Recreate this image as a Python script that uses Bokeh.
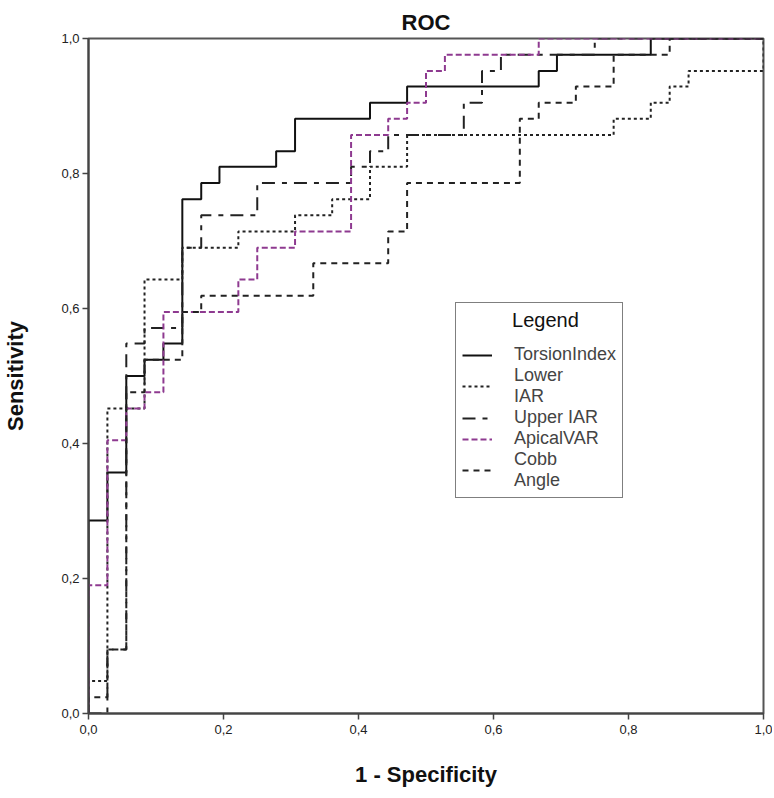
from bokeh.plotting import figure
from bokeh.models import Legend, LegendItem, FixedTicker, CustomJSTickFormatter, Range1d
from bokeh.embed import file_html
from bokeh.resources import INLINE

# ROC step-curve vertices (1 - specificity, sensitivity)
torsion_fpr = [0.0, 0.0, 0.028, 0.028, 0.056, 0.056, 0.083, 0.083, 0.111, 0.111, 0.139, 0.139,
               0.167, 0.167, 0.194, 0.194, 0.278, 0.278, 0.306, 0.306, 0.417, 0.417, 0.472, 0.472,
               0.667, 0.667, 0.694, 0.694, 0.833, 0.833, 1.0]
torsion_tpr = [0.0, 0.286, 0.286, 0.357, 0.357, 0.5, 0.5, 0.524, 0.524, 0.548, 0.548, 0.762,
               0.762, 0.786, 0.786, 0.81, 0.81, 0.833, 0.833, 0.881, 0.881, 0.905, 0.905, 0.929,
               0.929, 0.952, 0.952, 0.976, 0.976, 1.0, 1.0]

lower_fpr = [0.0, 0.0, 0.028, 0.028, 0.083, 0.083, 0.139, 0.139, 0.222, 0.222, 0.306, 0.306,
             0.361, 0.361, 0.417, 0.417, 0.472, 0.472, 0.778, 0.778, 0.833, 0.833, 0.861, 0.861,
             0.889, 0.889, 1.0, 1.0]
lower_tpr = [0.0, 0.048, 0.048, 0.452, 0.452, 0.643, 0.643, 0.69, 0.69, 0.714, 0.714, 0.738,
             0.738, 0.762, 0.762, 0.81, 0.81, 0.857, 0.857, 0.881, 0.881, 0.905, 0.905, 0.929,
             0.929, 0.952, 0.952, 1.0]

upper_fpr = [0.0, 0.028, 0.028, 0.056, 0.056, 0.083, 0.083, 0.139, 0.139, 0.167, 0.167, 0.25,
             0.25, 0.389, 0.389, 0.417, 0.417, 0.444, 0.444, 0.556, 0.556, 0.583, 0.583, 0.611,
             0.611, 0.75, 0.75, 1.0]
upper_tpr = [0.0, 0.0, 0.095, 0.095, 0.548, 0.548, 0.571, 0.571, 0.69, 0.69, 0.738, 0.738,
             0.786, 0.786, 0.81, 0.81, 0.833, 0.833, 0.857, 0.857, 0.905, 0.905, 0.952, 0.952,
             0.976, 0.976, 1.0, 1.0]

apical_fpr = [0.0, 0.0, 0.028, 0.028, 0.056, 0.056, 0.083, 0.083, 0.111, 0.111, 0.222, 0.222,
              0.25, 0.25, 0.306, 0.306, 0.389, 0.389, 0.444, 0.444, 0.472, 0.472, 0.5, 0.5,
              0.528, 0.528, 0.667, 0.667, 1.0]
apical_tpr = [0.0, 0.19, 0.19, 0.405, 0.405, 0.452, 0.452, 0.476, 0.476, 0.595, 0.595, 0.643,
              0.643, 0.69, 0.69, 0.714, 0.714, 0.857, 0.857, 0.881, 0.881, 0.905, 0.905, 0.952,
              0.952, 0.976, 0.976, 1.0, 1.0]

cobb_fpr = [0.0, 0.0, 0.028, 0.028, 0.056, 0.056, 0.083, 0.083, 0.139, 0.139, 0.167, 0.167,
            0.333, 0.333, 0.444, 0.444, 0.472, 0.472, 0.639, 0.639, 0.667, 0.667, 0.722, 0.722,
            0.778, 0.778, 0.861, 0.861, 1.0]
cobb_tpr = [0.0, 0.024, 0.024, 0.095, 0.095, 0.476, 0.476, 0.524, 0.524, 0.595, 0.595, 0.619,
            0.619, 0.667, 0.667, 0.714, 0.714, 0.786, 0.786, 0.881, 0.881, 0.905, 0.905, 0.929,
            0.929, 0.976, 0.976, 1.0, 1.0]

series_labels = ["TorsionIndex", "Lower\nIAR", "Upper IAR", "ApicalVAR", "Cobb\nAngle"]
legend_title = "Legend"
tick_values = [0.0, 0.2, 0.4, 0.6, 0.8, 1.0]

FONT = "Liberation Sans"

p = figure(width=772, height=796, output_backend="svg", toolbar_location=None,
           x_range=Range1d(0, 1), y_range=Range1d(0, 1),
           min_border_left=88, min_border_right=9, min_border_top=38, min_border_bottom=83,
           title="ROC")
p.title.align = "center"
p.title.vertical_align = "top"
p.title.text_baseline = "top"
p.title.text_font = FONT
p.title.text_font_size = "22px"
p.title.text_font_style = "bold"
p.title.text_color = "#111111"
p.title.standoff = 4

p.grid.visible = False
p.outline_line_color = "#555555"
p.outline_line_width = 2

fmt = CustomJSTickFormatter(code="return tick.toFixed(1).replace('.', ',');")
for ax in (p.xaxis[0], p.yaxis[0]):
    ax.ticker = FixedTicker(ticks=tick_values)
    ax.formatter = fmt
    ax.minor_tick_line_color = None
    ax.major_tick_in = 0
    ax.major_tick_out = 6
    ax.major_tick_line_color = "#444444"
    ax.major_tick_line_width = 1.5
    ax.axis_line_color = "#444444"
    ax.axis_line_width = 2
    ax.major_label_text_font = FONT
    ax.major_label_text_font_size = "13px"
    ax.major_label_text_color = "#222222"
    ax.axis_label_text_font = FONT
    ax.axis_label_text_font_size = "22px"
    ax.axis_label_text_font_style = "bold"
    ax.axis_label_text_color = "#111111"

p.xaxis.axis_label = "1 - Specificity"
p.yaxis.axis_label = "Sensitivity"
p.xaxis.major_label_standoff = 5
p.xaxis.axis_label_standoff = 25
p.yaxis.major_label_standoff = 3
p.yaxis.axis_label_standoff = 30

r1 = p.line(torsion_fpr, torsion_tpr, line_color="#111111", line_width=2)
r2 = p.line(lower_fpr, lower_tpr, line_color="#222222", line_width=2, line_dash="3 3")
r3 = p.line(upper_fpr, upper_tpr, line_color="#222222", line_width=2, line_dash="13 7 5 7")
r4 = p.line(apical_fpr, apical_tpr, line_color="#8e3a90", line_width=2, line_dash="6 3")
r5 = p.line(cobb_fpr, cobb_tpr, line_color="#222222", line_width=2, line_dash="6 5")

# legend heading centred in the box with no-break spaces
legend = Legend(
    items=[LegendItem(label=lab, renderers=[r]) for lab, r in zip(series_labels, [r1, r2, r3, r4, r5])],
    location=(367, 215), title="\u00a0" * 9 + legend_title,
)
legend.title_text_font = FONT
legend.title_text_font_size = "20px"
legend.title_text_font_style = "normal"
legend.title_text_color = "#111111"
legend.title_standoff = 12
legend.label_text_font = FONT
legend.label_text_font_size = "18px"
legend.label_text_line_height = 0.95
legend.glyph_width = 30
legend.glyph_height = 18
legend.label_standoff = 22
legend.spacing = 0
legend.padding = 6
legend.margin = 0
legend.border_line_color = "#000000"
legend.border_line_width = 1
legend.background_fill_alpha = 1.0
p.add_layout(legend)

open("out.html", "w").write(file_html(p, INLINE))
